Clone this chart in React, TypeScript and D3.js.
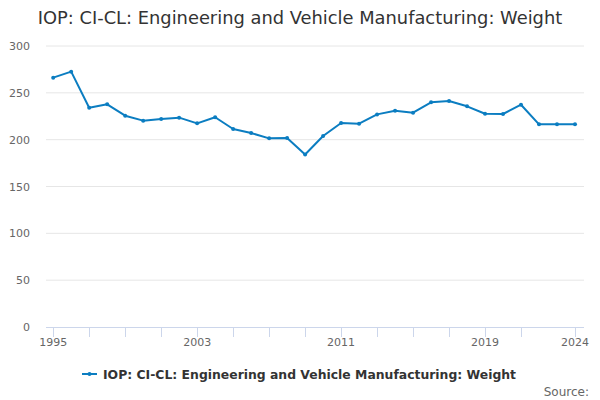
import * as d3 from 'd3';
import { useEffect, useRef } from 'react';

const years = d3.range(1995, 2025);
const weights = [
  266.2, 272.6, 234.1, 237.7, 225.6, 220.3, 222.0, 223.5, 217.4, 223.9,
  211.4, 207.1, 201.4, 201.8, 184.2, 203.9, 217.8, 217.1, 227.0, 230.9,
  228.8, 239.9, 241.3, 235.6, 227.7, 227.4, 237.3, 216.4, 216.4, 216.4,
];
const yTicks = [0, 50, 100, 150, 200, 250, 300];
const xTicks = [1995, 1997, 1999, 2001, 2003, 2005, 2007, 2009, 2011, 2013, 2015, 2017, 2019, 2021, 2024];
const xLabels = [1995, 2003, 2011, 2019, 2024];

const title = 'IOP: CI-CL: Engineering and Vehicle Manufacturing: Weight';
const font = '"DejaVu Sans", sans-serif';
const color = '#0b7dc1';

export default function App() {
  const ref = useRef<SVGSVGElement>(null);

  useEffect(() => {
    const svg = d3.select(ref.current);
    svg.selectAll('*').remove();

    const x = d3.scaleLinear().domain([1994.6, 2024.5]).range([46, 584]);
    const y = d3.scaleLinear().domain([0, 300]).range([327, 46]);

    svg.append('rect').attr('width', 600).attr('height', 400).attr('fill', '#fff');

    svg
      .append('text')
      .attr('x', 300)
      .attr('y', 24)
      .attr('text-anchor', 'middle')
      .attr('font-family', font)
      .attr('font-size', 17.85)
      .attr('fill', '#333')
      .text(title);

    // grid + y labels
    const yAxis = svg.append('g');
    yAxis
      .selectAll('line')
      .data(yTicks.filter((t) => t > 0))
      .join('line')
      .attr('x1', 46)
      .attr('x2', 584)
      .attr('y1', (d) => y(d))
      .attr('y2', (d) => y(d))
      .attr('stroke', '#e6e6e6');
    yAxis
      .selectAll('text')
      .data(yTicks)
      .join('text')
      .attr('x', 30)
      .attr('y', (d) => y(d) + 4)
      .attr('text-anchor', 'end')
      .attr('font-family', font)
      .attr('font-size', 11)
      .attr('fill', '#666')
      .text((d) => d);

    // x axis
    const xAxis = svg.append('g');
    xAxis
      .append('line')
      .attr('x1', 46)
      .attr('x2', 584)
      .attr('y1', 327.5)
      .attr('y2', 327.5)
      .attr('stroke', '#ccd6eb');
    xAxis
      .selectAll('line.tick')
      .data(xTicks)
      .join('line')
      .attr('class', 'tick')
      .attr('x1', (d) => Math.round(x(d)) + 0.5)
      .attr('x2', (d) => Math.round(x(d)) + 0.5)
      .attr('y1', 327)
      .attr('y2', 337)
      .attr('stroke', '#ccd6eb');
    xAxis
      .selectAll('text')
      .data(xLabels)
      .join('text')
      .attr('x', (d) => x(d))
      .attr('y', 346)
      .attr('text-anchor', 'middle')
      .attr('font-family', font)
      .attr('font-size', 11)
      .attr('fill', '#666')
      .text((d) => d);

    const line = d3
      .line<number>()
      .x((_, i) => x(years[i]))
      .y((d) => y(d));

    svg
      .append('path')
      .datum(weights)
      .attr('fill', 'none')
      .attr('stroke', color)
      .attr('stroke-width', 2)
      .attr('stroke-linejoin', 'round')
      .attr('d', line);

    svg
      .append('g')
      .selectAll('circle')
      .data(weights)
      .join('circle')
      .attr('cx', (_, i) => x(years[i]))
      .attr('cy', (d) => y(d))
      .attr('r', 2)
      .attr('fill', color);

    // legend
    const legend = svg.append('g');
    legend
      .append('line')
      .attr('x1', 82)
      .attr('x2', 97)
      .attr('y1', 374)
      .attr('y2', 374)
      .attr('stroke', color)
      .attr('stroke-width', 2);
    legend.append('circle').attr('cx', 89.5).attr('cy', 374).attr('r', 2).attr('fill', color);
    legend
      .append('text')
      .attr('x', 103)
      .attr('y', 378.5)
      .attr('font-family', font)
      .attr('font-size', 12.4)
      .attr('font-weight', 'bold')
      .attr('fill', '#333')
      .text(title);

    svg
      .append('text')
      .attr('x', 589)
      .attr('y', 396)
      .attr('text-anchor', 'end')
      .attr('font-family', font)
      .attr('font-size', 12)
      .attr('fill', '#666')
      .text('Source:');
  }, []);

  return (
    <svg
      ref={ref}
      width={600}
      height={400}
      style={{ position: 'absolute', left: 0, top: 0 }}
    />
  );
}
